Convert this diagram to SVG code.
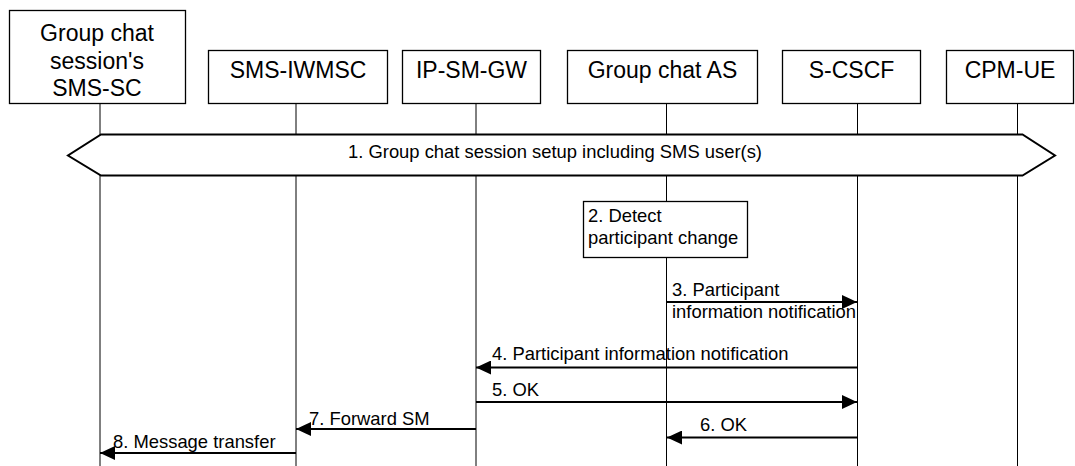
<svg xmlns="http://www.w3.org/2000/svg" width="1075" height="466" viewBox="0 0 1075 466">
<defs>
<style>
.box{fill:#fff;stroke:#000;stroke-width:1.3}
.title{font-family:"Liberation Sans",Arial,sans-serif;font-size:23px;fill:#000;text-anchor:middle}
.lbl{font-family:"Liberation Sans",Arial,sans-serif;font-size:18.4px;fill:#000}
.life{stroke:#000;stroke-width:1;fill:none}
.msg{stroke:#000;stroke-width:2.2;fill:none}
</style>
<marker id="ah" markerWidth="15" markerHeight="14" refX="15" refY="7" orient="auto" markerUnits="userSpaceOnUse">
<path d="M0,0 L15,7 L0,14 Z" fill="#000"/>
</marker>
</defs>
<rect width="1075" height="466" fill="#fff"/>
<g id="lifelines">
<line class="life" x1="100" y1="104" x2="100" y2="466"/>
<line class="life" x1="296" y1="104" x2="296" y2="466"/>
<line class="life" x1="476" y1="104" x2="476" y2="466"/>
<line class="life" x1="666.5" y1="104" x2="666.5" y2="466"/>
<line class="life" x1="857.5" y1="104" x2="857.5" y2="466"/>
<line class="life" x1="1017.5" y1="104" x2="1017.5" y2="466"/>
</g>
<g id="n-smssc">
<rect class="box" x="9.5" y="10.5" width="176" height="93"/>
<text class="title" x="97" y="41">Group chat</text>
<text class="title" x="97" y="69">session's</text>
<text class="title" x="97" y="96">SMS-SC</text>
</g>
<g id="n-iwmsc">
<rect class="box" x="208.5" y="50.5" width="179" height="53"/>
<text class="title" x="298" y="78">SMS-IWMSC</text>
</g>
<g id="n-ipsmgw">
<rect class="box" x="402.5" y="50.5" width="138" height="53"/>
<text class="title" x="471.5" y="78">IP-SM-GW</text>
</g>
<g id="n-as">
<rect class="box" x="567.5" y="50.5" width="190" height="53"/>
<text class="title" x="662.5" y="78">Group chat AS</text>
</g>
<g id="n-scscf">
<rect class="box" x="782.5" y="50.5" width="138" height="53"/>
<text class="title" x="851.5" y="78">S-CSCF</text>
</g>
<g id="n-ue">
<rect class="box" x="946.5" y="50.5" width="127" height="53"/>
<text class="title" x="1010" y="78">CPM-UE</text>
</g>
<g id="n-setup">
<path d="M101,134.5 L1022.5,134.5 L1055,155.5 L1022.5,175.5 L101,175.5 L68,155.5 Z" fill="#fff" stroke="#000" stroke-width="2"/>
<text class="lbl" x="348" y="157.5">1. Group chat session setup including SMS user(s)</text>
</g>
<g id="n-detect">
<rect class="box" x="583.5" y="201.5" width="164" height="56"/>
<text class="lbl" x="588" y="222">2. Detect</text>
<text class="lbl" x="588" y="243.5">participant change</text>
</g>
<g id="connectors">
<line class="msg" x1="666" y1="302" x2="857" y2="302" marker-end="url(#ah)"/>
<line class="msg" x1="857" y1="367.5" x2="476" y2="367.5" marker-end="url(#ah)"/>
<line class="msg" x1="476" y1="402" x2="857" y2="402" marker-end="url(#ah)"/>
<line class="msg" x1="857" y1="437.5" x2="667" y2="437.5" marker-end="url(#ah)"/>
<line class="msg" x1="476" y1="429" x2="296" y2="429" marker-end="url(#ah)"/>
<line class="msg" x1="296" y1="453" x2="100" y2="453" marker-end="url(#ah)"/>
<text class="lbl" x="672" y="296">3. Participant</text>
<text class="lbl" x="672" y="318">information notification</text>
<text class="lbl" x="492" y="360">4. Participant information notification</text>
<text class="lbl" x="492" y="395.5">5. OK</text>
<text class="lbl" x="700" y="431">6. OK</text>
<text class="lbl" x="309" y="424.5">7. Forward SM</text>
<text class="lbl" x="113" y="448">8. Message transfer</text>
</g>
</svg>
